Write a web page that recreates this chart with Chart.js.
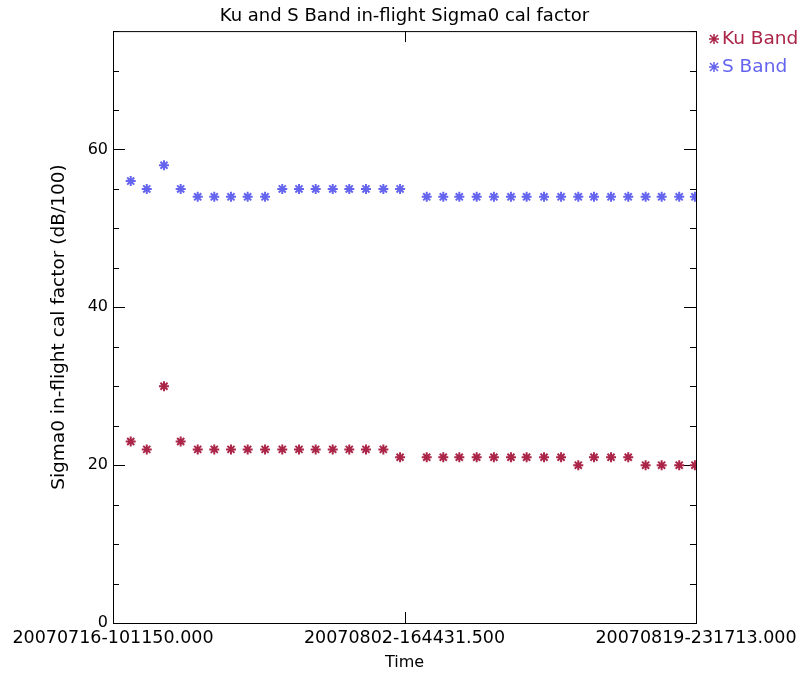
<!DOCTYPE html>
<html>
<head>
<meta charset="utf-8">
<title>Ku and S Band in-flight Sigma0 cal factor</title>
<script src="https://cdn.jsdelivr.net/npm/chart.js@4.4.0/dist/chart.umd.min.js"></script>
<style>
  html, body { margin: 0; padding: 0; background: #ffffff; }
  #wrap { width: 802px; height: 675px; }
</style>
</head>
<body>
<div id="wrap"><canvas id="calChart" width="802" height="675"></canvas></div>
<script>
//#region data
// days since 20070716-101150.000
const kuDays = [1.05, 2.0, 3.02, 4.01, 5.02, 6.0, 6.99, 7.98, 9.01, 10.03, 11.02, 12.01, 13.02, 14.0, 14.99, 16.02, 17.01,
  18.59, 19.57, 20.52, 21.55, 22.57, 23.58, 24.51, 25.54, 26.55, 27.57, 28.5, 29.51, 30.53, 31.56, 32.51, 33.55, 34.48];
const sDays = kuDays;

// cal factor values (dB/100)
const kuValues = [23, 22, 30, 23, 22, 22, 22, 22, 22, 22, 22, 22, 22, 22, 22, 22, 21,
  21, 21, 21, 21, 21, 21, 21, 21, 21, 20, 21, 21, 21, 20, 20, 20, 20];
const sValues = [56, 55, 58, 55, 54, 54, 54, 54, 54, 55, 55, 55, 55, 55, 55, 55, 55,
  54, 54, 54, 54, 54, 54, 54, 54, 54, 54, 54, 54, 54, 54, 54, 54, 54];

// time axis tick labels and where they sit (days)
const timeTickDays = [0, 17.2727, 34.5454];
const timeTickLabels = ["20070716-101150.000", "20070802-164431.500", "20070819-231713.000"];

const yTicks = [0, 20, 40, 60];
//#endregion

const kuColor = "#ab2548";
const sColor = "#6464ee";
const FONT = "DejaVu Sans";

// draws the box with inward ticks on all 4 sides, IDL style
const framePlugin = {
  id: "frame",
  beforeDatasetsDraw(chart) {
    const { ctx, chartArea: a, scales } = chart;
    const xs = scales.x;
    const ys = scales.y;
    ctx.save();
    ctx.strokeStyle = "#000";
    ctx.lineWidth = 1;
    ctx.strokeRect(a.left + 0.5, a.top + 0.5, a.right - a.left, a.bottom - a.top);

    ctx.beginPath();
    // y ticks: major every 20, minor every 5
    for (let v = 0; v <= ys.max; v += 5) {
      const y = Math.round(ys.getPixelForValue(v)) + 0.5;
      const len = v % 20 === 0 ? 12 : 6;
      ctx.moveTo(a.left, y);
      ctx.lineTo(a.left + len, y);
      ctx.moveTo(a.right, y);
      ctx.lineTo(a.right - len, y);
    }
    // x ticks
    timeTickDays.forEach((d) => {
      const x = Math.round(xs.getPixelForValue(d)) + 0.5;
      ctx.moveTo(x, a.bottom);
      ctx.lineTo(x, a.bottom - 11);
      ctx.moveTo(x, a.top);
      ctx.lineTo(x, a.top + 11);
    });
    ctx.stroke();
    ctx.restore();
  },
};

// legend text on the right side, coloured like the series
const sideLegend = {
  id: "sideLegend",
  afterDraw(chart) {
    const { ctx } = chart;
    ctx.save();
    ctx.font = "18.5px '" + FONT + "'";
    ctx.textBaseline = "middle";
    chart.data.datasets.forEach((ds, i) => {
      const y = 39 + i * 28;
      const cx = 714;
      ctx.strokeStyle = ds.borderColor;
      ctx.lineWidth = 1.5;
      ctx.beginPath();
      ctx.moveTo(cx - 5, y);
      ctx.lineTo(cx + 5, y);
      ctx.moveTo(cx, y - 5);
      ctx.lineTo(cx, y + 5);
      ctx.moveTo(cx - 4, y - 4);
      ctx.lineTo(cx + 4, y + 4);
      ctx.moveTo(cx - 4, y + 4);
      ctx.lineTo(cx + 4, y - 4);
      ctx.stroke();
      ctx.fillStyle = ds.borderColor;
      ctx.fillText(ds.label, 722, y);
    });
    ctx.restore();
  },
};

function toPoints(days, values) {
  return days.map((d, i) => ({ x: d, y: values[i] }));
}

const ctx = document.getElementById("calChart").getContext("2d");
new Chart(ctx, {
  type: "line",
  data: {
    datasets: [
      {
        label: "Ku Band",
        data: toPoints(kuDays, kuValues),
        borderColor: kuColor,
        backgroundColor: kuColor,
        showLine: false,
        pointStyle: "star",
        pointRadius: 5,
        pointBorderWidth: 2,
      },
      {
        label: "S Band",
        data: toPoints(sDays, sValues),
        borderColor: sColor,
        backgroundColor: sColor,
        showLine: false,
        pointStyle: "star",
        pointRadius: 5,
        pointBorderWidth: 2,
      },
    ],
  },
  options: {
    responsive: false,
    animation: false,
    layout: { padding: { left: 0, right: 106, top: 0, bottom: 0 } },
    plugins: {
      legend: { display: false },
      tooltip: { enabled: false },
      title: {
        display: true,
        fullSize: false, // center over the plot box, not the canvas
        text: "Ku and S Band in-flight Sigma0 cal factor",
        color: "#000",
        font: { family: FONT, size: 18, weight: "normal" },
        padding: { top: 6, bottom: 3.5 },
      },
    },
    scales: {
      x: {
        type: "linear",
        min: timeTickDays[0],
        max: timeTickDays[2],
        grid: { display: false, drawTicks: false },
        border: { display: false },
        afterBuildTicks(scale) {
          scale.ticks = timeTickDays.map((v) => ({ value: v }));
        },
        afterFit(scale) {
          scale.height = 52;
        },
        ticks: {
          autoSkip: false,
          maxRotation: 0,
          padding: 5,
          color: "#000",
          font: { family: FONT, size: 17.5 },
          callback: (v, i) => timeTickLabels[i],
        },
        title: {
          display: true,
          text: "Time",
          color: "#000",
          font: { family: FONT, size: 16 },
          padding: { top: 0, bottom: 3 },
        },
      },
      y: {
        min: 0,
        max: 75,
        grid: { display: false, drawTicks: false },
        border: { display: false },
        afterBuildTicks(scale) {
          scale.ticks = yTicks.map((v) => ({ value: v }));
        },
        afterFit(scale) {
          scale.width = 113;
        },
        ticks: {
          padding: 5,
          color: "#000",
          font: { family: FONT, size: 16 },
        },
        title: {
          display: true,
          text: "Sigma0 in-flight cal factor (dB/100)",
          color: "#000",
          font: { family: FONT, size: 18.5 },
          padding: { top: 48, bottom: 0 },
        },
      },
    },
  },
  plugins: [framePlugin, sideLegend],
});
</script>
</body>
</html>
